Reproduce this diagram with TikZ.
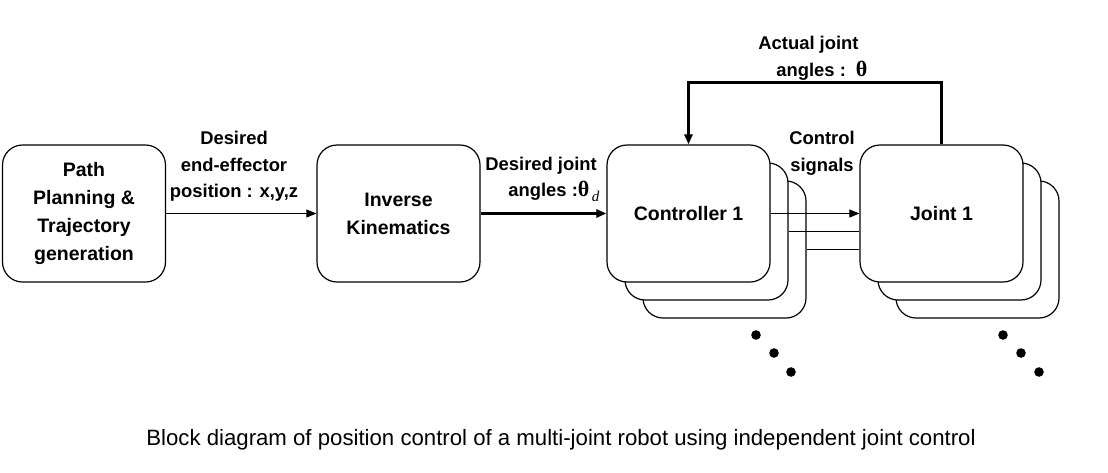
\documentclass[tikz,border=0pt]{standalone}
\usepackage{fontspec}
\setmainfont{Liberation Sans}
\newfontfamily\greekfont{Liberation Serif}
\usetikzlibrary{arrows.meta}

\tikzstyle{block}=[draw,line width=0.6pt,rounded corners=10pt,fill=white,minimum width=81.5pt,minimum height=68.5pt,align=center,font=\fontsize{9.75}{14}\selectfont\bfseries]
\tikzstyle{edge} = [draw,line width=0.5pt,-]
\tikzstyle{arrow} = [edge,-{Triangle[length=5pt,width=4pt]}]
\tikzstyle{tag} = [font=\fontsize{9.2}{13.3}\selectfont\bfseries,inner sep=0pt]
\newcommand{\thang}{{\greekfont\fontsize{11}{13.3}\selectfont θ}}

\begin{document}
\begin{tikzpicture}[x=0.5pt, y=-0.5pt]
    \useasboundingbox (0,0) rectangle (1108,472);
    % First we draw the stacked copies behind the front blocks
    \foreach \pos/\name in {{(724.5,249.5)/ctrlc}, {(706.5,231.5)/ctrlb}, {(977.5,249.5)/jointc}, {(959.5,231.5)/jointb}}
        \node[block] (\name) at \pos {};
    % Then the front blocks
    \node[block] (plan) at (84,213.5) {Path\\Planning \&\\Trajectory\\generation};
    \node[block] (ik) at (398.5,213.5) {Inverse\\Kinematics};
    \node[block] (ctrl) at (688.5,213.5) {Controller 1};
    \node[block] (joint) at (941.5,213.5) {Joint 1};
    % Connect blocks with signals
    \path[arrow] (plan) -- (ik);
    \path[arrow, line width=1.5pt] (ik) -- (ctrl);
    \path[arrow] (ctrl) -- (joint);
    \foreach \source in {ctrlb,ctrlc}
        \path[edge] (\source.east) -- (\source.east -| joint.west);
    \path[arrow, line width=1.4pt] (joint.north) -- ++(0,-62) -| (ctrl.north);

    % Labels of the signals
    \node[tag, align=center] (eelabel) at (234,166.5) {Desired\\end-effector\\position : x,y,z};
    \node[tag, align=left, anchor=west] (qdlabel) at (485,179.5) {Desired joint\\\hspace*{11.5pt}angles :\thang\raisebox{-2.5pt}{\greekfont\mdseries\itshape\fontsize{7.5}{8}\selectfont\,d}};
    \node[tag, align=center] (siglabel) at (822,153) {Control\\signals};
    \node[tag, align=left, anchor=west] (thlabel) at (758,58) {Actual joint\\\hspace*{9pt}angles :\hspace{5pt}\thang};

    % Dots for the further controllers and joints
    \foreach \pos in {(756,335), (774,353), (791,372), (1003,335), (1021,353), (1039,372)}
        \fill \pos circle (2.4pt);

    \node[font=\fontsize{11.1}{12}\selectfont] (caption) at (561,440) {Block diagram of position control of a multi-joint robot using independent joint control};
\end{tikzpicture}
\end{document}
